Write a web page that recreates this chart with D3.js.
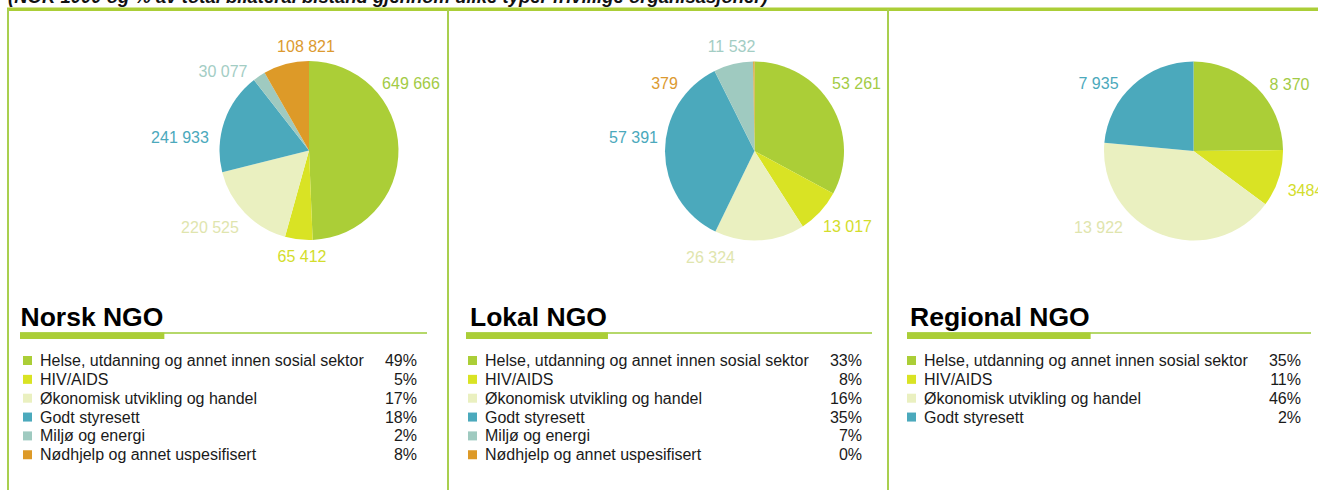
<!DOCTYPE html>
<html>
<head>
<meta charset="utf-8">
<script src="https://cdn.jsdelivr.net/npm/d3@7"></script>
<style>
  html, body { margin: 0; padding: 0; background: #ffffff; }
  svg { display: block; }
</style>
</head>
<body>
<svg id="chart" width="1318" height="490"></svg>
<script>
// ---------- DATA ----------
const categories = [
  "Helse, utdanning og annet innen sosial sektor",
  "HIV/AIDS",
  "Økonomisk utvikling og handel",
  "Godt styresett",
  "Miljø og energi",
  "Nødhjelp og annet uspesifisert"
];
const panelTitles = ["Norsk NGO", "Lokal NGO", "Regional NGO"];

const norskValues    = [649666, 65412, 220525, 241933, 30077, 108821];
const lokalValues    = [53261, 13017, 26324, 57391, 11532, 379];
const regionalValues = [8370, 3484, 13922, 7935];

const norskLabels    = ["649 666", "65 412", "220 525", "241 933", "30 077", "108 821"];
const lokalLabels    = ["53 261", "13 017", "26 324", "57 391", "11 532", "379"];
const regionalLabels = ["8 370", "3484", "13 922", "7 935"];

const norskPct    = ["49%", "5%", "17%", "18%", "2%", "8%"];
const lokalPct    = ["33%", "8%", "16%", "35%", "7%", "0%"];
const regionalPct = ["35%", "11%", "46%", "2%"];

const titleText = "(NOK 1000 og % av total bilateral bistand gjennom ulike typer frivillige organisasjoner)";

// ---------- STYLE / LAYOUT ----------
const sliceColors = ["#abce37", "#d9e324", "#eaf0c0", "#4ba9bc", "#9fcac0", "#dd9a28"];
const labelColors = ["#a3cb45", "#d3dd2c", "#dfe5ae", "#4ba9bc", "#a3cdc4", "#dc9a30"];
const frameGreen = "#a9cf4f";
const barGreen = "#abce37";

const panels = [
  { values: norskValues, labels: norskLabels, pct: norskPct, ox: 0, cx: 309, cy: 150.5, border: 8, headX: 20.5, barX: 20,
    labelOffsets: [[102, -67], [-7, 106], [-99, 77], [-129, -13], [-86, -79], [-3, -104]] },
  { values: lokalValues, labels: lokalLabels, pct: lokalPct, ox: 445, cy: 151, cx: 754.5, border: 448, headX: 470, barX: 466,
    labelOffsets: [[102, -68], [93, 75], [-44, 106], [-121, -14], [-23, -105], [-90, -68]] },
  { values: regionalValues, labels: regionalLabels, pct: regionalPct, ox: 884, cx: 1193.5, cy: 151, border: 888, headX: 910, barX: 907,
    labelOffsets: [[96, -67], [112, 39], [-95, 76], [-95, -68]] }
];
const radius = 89.5;

const svg = d3.select("#chart");

// title (cut off at top, as in the source)
svg.append("text")
  .attr("x", 8).attr("y", 3)
  .attr("font-family", "Liberation Sans, Arial, sans-serif")
  .attr("font-size", 18.5).attr("font-weight", "bold").attr("font-style", "italic")
  .attr("fill", "#111")
  .text(titleText);

// top green band
svg.append("rect").attr("x", 7).attr("y", 7.5).attr("width", 1318 - 7).attr("height", 3.5).attr("fill", barGreen);

const pie = d3.pie().sort(null).value(d => d);
const arc = d3.arc().innerRadius(0).outerRadius(radius);
const colorScale = d3.scaleOrdinal().domain(d3.range(categories.length)).range(sliceColors);
const labelColorScale = d3.scaleOrdinal().domain(d3.range(categories.length)).range(labelColors);

panels.forEach((p, pi) => {
  // panel border
  svg.append("line")
    .attr("x1", p.border).attr("x2", p.border).attr("y1", 9).attr("y2", 490)
    .attr("stroke", frameGreen).attr("stroke-width", 2);

  // pie
  const g = svg.append("g").attr("transform", `translate(${p.cx},${p.cy})`);
  const arcs = pie(p.values);
  g.selectAll("path").data(arcs).enter().append("path")
    .attr("d", arc)
    .attr("fill", (d, i) => colorScale(i));

  g.selectAll("text.val").data(arcs).enter().append("text")
    .attr("class", "val")
    .attr("x", (d, i) => p.labelOffsets[i][0])
    .attr("y", (d, i) => p.labelOffsets[i][1])
    .attr("dy", "0.36em")
    .attr("text-anchor", "middle")
    .attr("font-family", "Liberation Sans, Arial, sans-serif")
    .attr("font-size", 16)
    .attr("fill", (d, i) => labelColorScale(i))
    .text((d, i) => p.labels[i]);

  // heading
  const head = svg.append("text")
    .attr("x", p.headX).attr("y", 325.5)
    .attr("font-family", "Liberation Sans, Arial, sans-serif")
    .attr("font-size", 26.5).attr("font-weight", "bold")
    .attr("fill", "#000")
    .text(panelTitles[pi]);
  const headEnd = p.headX + head.node().getComputedTextLength();

  // thin line + thick bar
  svg.append("rect").attr("x", p.barX).attr("y", 332).attr("width", p.ox + 427 - p.barX).attr("height", 2).attr("fill", "#b5d86a");
  svg.append("rect").attr("x", p.barX).attr("y", 332.5).attr("width", headEnd + 1 - p.barX).attr("height", 6.5).attr("fill", barGreen);

  // legend
  const rowY = d3.scaleLinear().domain([0, 1]).range([366, 384.85]);
  const lg = svg.append("g");
  p.values.forEach((v, i) => {
    const y = rowY(i);
    lg.append("rect")
      .attr("x", p.ox + 23).attr("y", y - 10).attr("width", 9).attr("height", 9)
      .attr("fill", colorScale(i));
    lg.append("text")
      .attr("x", p.ox + 40).attr("y", y)
      .attr("font-family", "Liberation Sans, Arial, sans-serif")
      .attr("font-size", 16).attr("fill", "#1a1a1a")
      .text(categories[i]);
    lg.append("text")
      .attr("x", p.ox + 417).attr("y", y)
      .attr("text-anchor", "end")
      .attr("font-family", "Liberation Sans, Arial, sans-serif")
      .attr("font-size", 16).attr("fill", "#1a1a1a")
      .text(p.pct[i]);
  });
});
</script>
</body>
</html>
